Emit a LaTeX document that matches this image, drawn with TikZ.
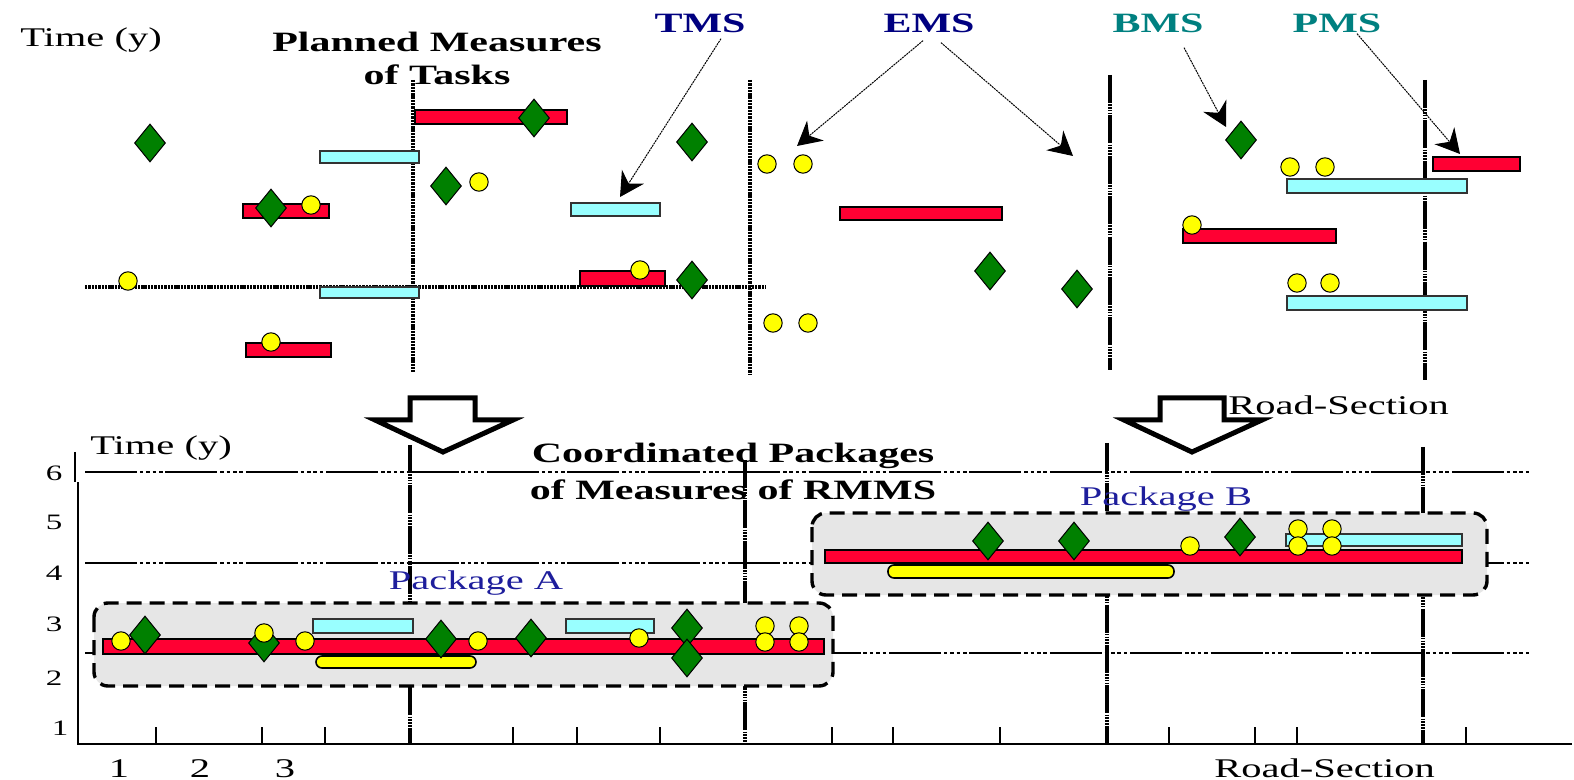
\documentclass[tikz,border=0pt]{standalone}
\usepackage{fontspec}
\setmainfont[FakeStretch=1.5]{Liberation Serif}
\usetikzlibrary{arrows.meta,shapes.geometric}
\definecolor{barred}{HTML}{FF0033}
\definecolor{barcyan}{HTML}{99FFFF}
\definecolor{gemgreen}{HTML}{008000}
\definecolor{dotyellow}{HTML}{FFFF00}
\definecolor{tmsblue}{HTML}{000080}
\definecolor{bmsteal}{HTML}{008080}
\definecolor{pkgblue}{HTML}{1E1E9C}
\definecolor{pkggray}{HTML}{E6E6E6}
\begin{document}
\begin{tikzpicture}[x=0.5pt,y=-0.5pt,
  every node/.style={inner sep=0pt},
  redbar/.style={draw=black,line width=0.8pt,fill=barred},
  cyanbar/.style={draw=black!80,line width=0.8pt,fill=barcyan},
  yellowbar/.style={draw=black,line width=0.8pt,fill=dotyellow,rounded corners=3pt},
  gem/.style={diamond,draw=black,line width=0.5pt,fill=gemgreen,minimum width=15.5pt,minimum height=19pt},
  measure/.style={ellipse,draw=black,line width=0.5pt,fill=dotyellow,minimum width=9.2pt,minimum height=9.2pt},
  pkgbox/.style={draw=black,line width=1.7pt,dash pattern=on 7.5pt off 4pt,fill=pkggray,rounded corners=7pt},
  dotline/.style={line width=2pt,dash pattern=on 1.2pt off 0.45pt},
  roadline/.style={line width=1.7pt,dash pattern=on 14pt off 0.6pt on 0.8pt off 0.6pt on 0.8pt off 0.6pt on 0.8pt off 0.6pt on 0.8pt off 0.6pt},
  gridline/.style={line width=1.3pt,dash pattern=on 26pt off 1.4pt on 1.8pt off 1.4pt on 1.8pt off 1.4pt on 1.8pt off 1.4pt on 1.8pt off 1.4pt},
  axis/.style={line width=0.8pt},
  hollow/.style={draw=black,fill=white,line width=2.5pt,line join=miter},
  msarrow/.style={line width=0.5pt,dash pattern=on 1pt off 0.4pt,-{Stealth[length=12pt,width=13pt,inset=4pt]}},
  plain/.style={font=\fontsize{13.5}{16}\selectfont},
  tick/.style={font=\fontsize{11}{13}\selectfont},
  heading/.style={font=\bfseries\fontsize{14}{16}\selectfont},
  msname/.style={font=\bfseries\fontsize{14}{16}\selectfont}
]
\useasboundingbox (0,0) rectangle (1574,780);
% planned measures of the tasks
\draw [dotline] (85,287) -- (765,287);
\draw [dotline] (413,80) -- (413,372);
\draw [dotline] (750,80) -- (750,374);
\draw [roadline] (1110,75) -- (1110,370);
\draw [roadline] (1425,80) -- (1425,380);
\draw [redbar] (415,110) rectangle (567,124);
\draw [redbar] (243,204) rectangle (329,218);
\draw [redbar] (580,271) rectangle (665,286);
\draw [redbar] (246,343) rectangle (331,357);
\draw [redbar] (840,207) rectangle (1002,220);
\draw [redbar] (1183,229) rectangle (1336,243);
\draw [redbar] (1433,157) rectangle (1520,171);
\draw [cyanbar] (320,151) rectangle (419,163);
\draw [cyanbar] (320,287) rectangle (419,298);
\draw [cyanbar] (571,203) rectangle (660,216);
\draw [cyanbar] (1287,179) rectangle (1467,193);
\draw [cyanbar] (1287,296) rectangle (1467,310);
\node [gem] (ga1) at (150,143) {};
\node [gem] (ga2) at (534,118) {};
\node [gem] (ga3) at (271,208) {};
\node [gem] (ga4) at (446,186) {};
\node [gem] (ga5) at (692,142) {};
\node [gem] (ga6) at (692,280) {};
\node [gem] (ga7) at (990,271) {};
\node [gem] (ga8) at (1077,289) {};
\node [gem] (ga9) at (1241,140) {};
\node [measure] (ma1) at (128,281) {};
\node [measure] (ma2) at (311,205) {};
\node [measure] (ma3) at (479,182) {};
\node [measure] (ma4) at (640,270) {};
\node [measure] (ma5) at (271,342) {};
\node [measure] (ma6) at (767,164) {};
\node [measure] (ma7) at (803,164) {};
\node [measure] (ma8) at (773,323) {};
\node [measure] (ma9) at (808,323) {};
\node [measure] (ma10) at (1290,167) {};
\node [measure] (ma11) at (1325,167) {};
\node [measure] (ma12) at (1192,225) {};
\node [measure] (ma13) at (1297,283) {};
\node [measure] (ma14) at (1330,283) {};
\node [plain, anchor=base west] (timeA) at (20,47) {Time (y)};
\node [heading, anchor=base] (plannedA) at (437,52) {Planned Measures};
\node [heading, anchor=base] (plannedB) at (437,85) {of Tasks};
\node [msname, text=tmsblue, anchor=base] (tms) at (700,33) {TMS};
\node [msname, text=tmsblue, anchor=base] (ems) at (929,33) {EMS};
\node [msname, text=bmsteal, anchor=base] (bms) at (1158,33) {BMS};
\node [msname, text=bmsteal, anchor=base] (pms) at (1337,33) {PMS};
\coordinate (tmsTip) at (620,197);
\coordinate (emsTipL) at (797,146);
\coordinate (emsTipR) at (1073,156);
\coordinate (bmsTip) at (1226,127);
\coordinate (pmsTip) at (1460,154);
\draw [msarrow] ([xshift=10.5pt,yshift=-2.5pt]tms.south) -- (tmsTip);
\draw [msarrow] ([xshift=-3pt,yshift=-3.5pt]ems.south) -- (emsTipL);
\draw [msarrow] ([xshift=6pt,yshift=-4.5pt]ems.south) -- (emsTipR);
\draw [msarrow] ([xshift=13pt,yshift=-7pt]bms.south) -- (bmsTip);
\draw [msarrow] ([xshift=10pt]pms.south) -- (pmsTip);
% coordination step
\draw [hollow] (410,398) -- (475,398) -- (475,420) -- (513,420) -- (443,452) -- (375,420) -- (410,420) -- cycle;
\draw [hollow] (1160,398) -- (1224,398) -- (1224,420) -- (1262,420) -- (1192,452) -- (1124,420) -- (1160,420) -- cycle;
\node [plain, anchor=base west] (roadA) at (1228,415) {Road-Section};
% coordinated packages
\draw [gridline] (85,472) -- (1530,472);
\draw [gridline] (85,563) -- (1530,563);
\draw [gridline] (85,653) -- (1530,653);
\draw [roadline] (410,445) -- (410,744);
\draw [roadline] (745,460) -- (745,744);
\draw [roadline] (1107,443) -- (1107,744);
\draw [roadline] (1423,447) -- (1423,744);
\draw [axis] (75,452) -- (75,482);
\draw [axis] (78,482) -- (78,744) -- (1572,744);
\draw [axis] (156,744) -- (156,727);
\draw [axis] (262,744) -- (262,727);
\draw [axis] (325,744) -- (325,727);
\draw [axis] (513,744) -- (513,727);
\draw [axis] (577,744) -- (577,727);
\draw [axis] (660,744) -- (660,727);
\draw [axis] (832,744) -- (832,727);
\draw [axis] (893,744) -- (893,727);
\draw [axis] (1000,744) -- (1000,727);
\draw [axis] (1169,744) -- (1169,727);
\draw [axis] (1255,744) -- (1255,727);
\draw [axis] (1297,744) -- (1297,727);
\draw [axis] (1466,744) -- (1466,727);
\draw [pkgbox] (94,603) rectangle (833,686);
\draw [pkgbox] (812,513) rectangle (1487,595);
\draw [redbar] (103,639) rectangle (824,654);
\draw [cyanbar] (313,619) rectangle (413,633);
\draw [cyanbar] (566,619) rectangle (654,633);
\draw [yellowbar] (316,656) rectangle (476,668);
\draw [redbar] (825,550) rectangle (1462,563);
\draw [cyanbar] (1286,534) rectangle (1462,546);
\draw [yellowbar] (888,565) rectangle (1174,578);
\node [gem] (gb1) at (145,635) {};
\node [gem] (gb2) at (264,643) {};
\node [gem] (gb3) at (441,639) {};
\node [gem] (gb4) at (531,638) {};
\node [gem] (gb5) at (687,628) {};
\node [gem] (gb6) at (687,658) {};
\node [gem] (gb7) at (988,541) {};
\node [gem] (gb8) at (1074,541) {};
\node [gem] (gb9) at (1240,537) {};
\node [measure] (mb1) at (121,641) {};
\node [measure] (mb2) at (264,633) {};
\node [measure] (mb3) at (305,641) {};
\node [measure] (mb4) at (478,641) {};
\node [measure] (mb5) at (639,638) {};
\node [measure] (mb6) at (765,626) {};
\node [measure] (mb7) at (765,642) {};
\node [measure] (mb8) at (799,626) {};
\node [measure] (mb9) at (799,642) {};
\node [measure] (mb10) at (1190,546) {};
\node [measure] (mb11) at (1298,529) {};
\node [measure] (mb12) at (1298,546) {};
\node [measure] (mb13) at (1332,529) {};
\node [measure] (mb14) at (1332,546) {};
\node [plain, text=pkgblue, anchor=base] (pkgA) at (476,589) {Package A};
\node [plain, text=pkgblue, anchor=base] (pkgB) at (1166,505) {Package B};
\node [plain, anchor=base west] (timeB) at (90,454) {Time (y)};
\node [heading, anchor=base] (coordA) at (733,463) {Coordinated Packages};
\node [heading, anchor=base] (coordB) at (733,499) {of Measures of RMMS};
\node [tick] (y6) at (54,473) {6};
\node [tick] (y5) at (54,522) {5};
\node [tick] (y4) at (54,573) {4};
\node [tick] (y3) at (54,624) {3};
\node [tick] (y2) at (54,678) {2};
\node [tick] (y1) at (60,728) {1};
\node [plain, anchor=base] (x1) at (119,777) {1};
\node [plain, anchor=base] (x2) at (200,777) {2};
\node [plain, anchor=base] (x3) at (285,777) {3};
\node [plain, anchor=base west] (roadB) at (1214,777) {Road-Section};
\end{tikzpicture}
\end{document}
